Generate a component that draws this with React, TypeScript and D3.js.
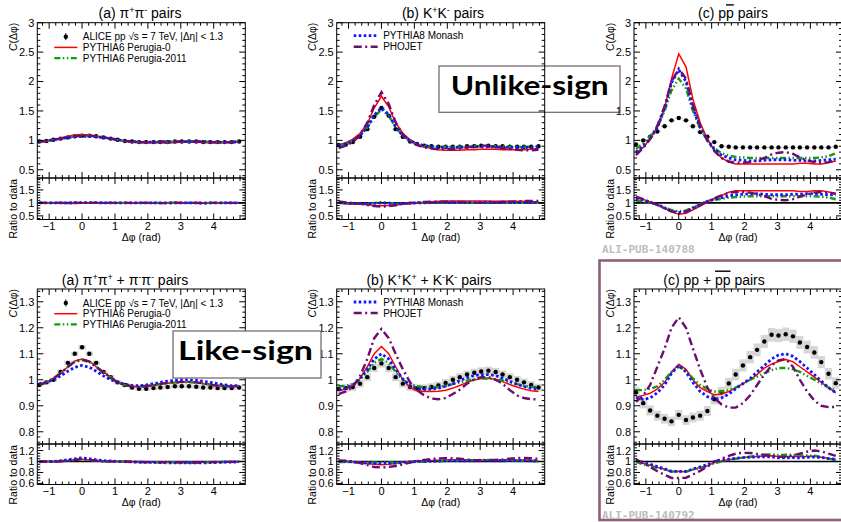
import React from "react";
import * as d3 from "d3";

// bin centres (rad)
const dphi = [-1.3, -1.08, -0.87, -0.65, -0.43, -0.22, 0, 0.22, 0.43, 0.65, 0.87, 1.08, 1.3, 1.52, 1.73, 1.95, 2.17, 2.38, 2.6, 2.82, 3.03, 3.25, 3.47, 3.68, 3.9, 4.12, 4.33, 4.55, 4.77];

// (a) pi+pi- unlike-sign
const pipiUS_data = [0.98, 0.99, 1.01, 1.03, 1.05, 1.07, 1.08, 1.08, 1.07, 1.05, 1.03, 1.01, 0.99, 0.98, 0.97, 0.97, 0.97, 0.97, 0.97, 0.98, 0.98, 0.98, 0.98, 0.97, 0.97, 0.97, 0.97, 0.97, 0.98];
const pipiUS_p0 = [0.98, 0.99, 1.01, 1.04, 1.07, 1.09, 1.1, 1.09, 1.07, 1.05, 1.03, 1.01, 0.99, 0.97, 0.96, 0.96, 0.96, 0.96, 0.96, 0.96, 0.97, 0.97, 0.97, 0.96, 0.96, 0.96, 0.96, 0.96, 0.97];
const pipiUS_p11 = [0.98, 0.99, 1.01, 1.03, 1.05, 1.07, 1.08, 1.08, 1.07, 1.05, 1.03, 1.01, 0.99, 0.98, 0.97, 0.97, 0.97, 0.97, 0.97, 0.98, 0.98, 0.98, 0.98, 0.98, 0.97, 0.97, 0.97, 0.97, 0.98];
const pipiUS_monash = [0.98, 0.99, 1.01, 1.03, 1.05, 1.06, 1.07, 1.07, 1.06, 1.05, 1.03, 1.01, 0.99, 0.98, 0.97, 0.97, 0.97, 0.97, 0.97, 0.98, 0.98, 0.98, 0.98, 0.98, 0.97, 0.97, 0.97, 0.97, 0.98];
const pipiUS_phojet = [0.98, 0.99, 1.01, 1.03, 1.05, 1.07, 1.08, 1.08, 1.07, 1.05, 1.03, 1.01, 0.99, 0.98, 0.97, 0.97, 0.97, 0.98, 0.98, 0.98, 0.98, 0.98, 0.98, 0.98, 0.97, 0.97, 0.97, 0.97, 0.98];

// (b) K+K- unlike-sign
const kkUS_data = [0.92, 0.93, 0.97, 1.06, 1.19, 1.4, 1.55, 1.42, 1.19, 1.06, 0.98, 0.94, 0.91, 0.9, 0.89, 0.89, 0.89, 0.89, 0.9, 0.9, 0.91, 0.91, 0.9, 0.9, 0.89, 0.89, 0.89, 0.89, 0.9];
const kkUS_p0 = [0.92, 0.96, 1.02, 1.12, 1.28, 1.55, 1.75, 1.57, 1.3, 1.12, 1.01, 0.94, 0.89, 0.86, 0.84, 0.83, 0.83, 0.83, 0.84, 0.84, 0.85, 0.85, 0.85, 0.84, 0.84, 0.84, 0.84, 0.85, 0.86];
const kkUS_p11 = [0.92, 0.94, 0.99, 1.08, 1.22, 1.4, 1.52, 1.42, 1.22, 1.08, 0.99, 0.94, 0.91, 0.9, 0.89, 0.89, 0.89, 0.89, 0.89, 0.9, 0.9, 0.9, 0.9, 0.9, 0.89, 0.89, 0.89, 0.89, 0.9];
const kkUS_monash = [0.91, 0.94, 0.99, 1.08, 1.22, 1.43, 1.55, 1.44, 1.23, 1.08, 0.99, 0.94, 0.91, 0.89, 0.88, 0.88, 0.88, 0.88, 0.88, 0.89, 0.89, 0.89, 0.89, 0.88, 0.88, 0.88, 0.88, 0.88, 0.89];
const kkUS_phojet = [0.87, 0.91, 0.97, 1.09, 1.3, 1.6, 1.82, 1.62, 1.31, 1.1, 0.98, 0.92, 0.88, 0.86, 0.85, 0.85, 0.85, 0.86, 0.88, 0.9, 0.91, 0.91, 0.89, 0.87, 0.85, 0.84, 0.83, 0.83, 0.84];

// (c) p pbar unlike-sign
const ppUS_data = [0.93, 1.0, 1.06, 1.15, 1.24, 1.34, 1.38, 1.34, 1.24, 1.14, 1.06, 0.97, 0.9, 0.89, 0.88, 0.88, 0.88, 0.88, 0.88, 0.88, 0.88, 0.88, 0.88, 0.88, 0.88, 0.88, 0.88, 0.88, 0.89];
const ppUS_p0 = [0.78, 0.88, 1.02, 1.22, 1.55, 2.05, 2.47, 2.25, 1.7, 1.3, 1.02, 0.83, 0.7, 0.63, 0.6, 0.6, 0.6, 0.6, 0.6, 0.6, 0.6, 0.6, 0.6, 0.61, 0.61, 0.6, 0.6, 0.62, 0.65];
const ppUS_p11 = [0.85, 0.95, 1.07, 1.22, 1.5, 1.85, 2.05, 1.88, 1.5, 1.2, 1.0, 0.87, 0.78, 0.74, 0.72, 0.71, 0.7, 0.7, 0.7, 0.7, 0.7, 0.7, 0.7, 0.7, 0.7, 0.7, 0.71, 0.73, 0.78];
const ppUS_monash = [0.8, 0.9, 1.03, 1.22, 1.55, 1.98, 2.2, 2.0, 1.55, 1.22, 1.0, 0.85, 0.75, 0.7, 0.67, 0.66, 0.65, 0.65, 0.66, 0.67, 0.67, 0.67, 0.66, 0.66, 0.65, 0.65, 0.66, 0.67, 0.68];
const ppUS_phojet = [0.75, 0.87, 1.02, 1.25, 1.58, 2.0, 2.22, 2.05, 1.6, 1.25, 1.0, 0.82, 0.7, 0.64, 0.62, 0.62, 0.63, 0.66, 0.7, 0.76, 0.79, 0.8, 0.77, 0.71, 0.66, 0.63, 0.62, 0.63, 0.66];

// (a) pi+pi+ + pi-pi- like-sign
const pipiLS_data = [0.98, 0.99, 1.0, 1.03, 1.065, 1.1, 1.125, 1.1, 1.065, 1.03, 1.01, 0.99, 0.98, 0.97, 0.965, 0.965, 0.968, 0.97, 0.972, 0.975, 0.975, 0.975, 0.973, 0.97, 0.97, 0.968, 0.968, 0.968, 0.97];
const pipiLS_p0 = [0.98, 0.99, 1.005, 1.025, 1.05, 1.072, 1.08, 1.072, 1.05, 1.03, 1.01, 0.99, 0.98, 0.975, 0.972, 0.974, 0.978, 0.983, 0.987, 0.99, 0.991, 0.991, 0.989, 0.985, 0.98, 0.977, 0.975, 0.974, 0.975];
const pipiLS_p11 = [0.98, 0.99, 1.005, 1.025, 1.05, 1.068, 1.076, 1.068, 1.05, 1.028, 1.01, 0.99, 0.98, 0.977, 0.975, 0.977, 0.98, 0.984, 0.987, 0.989, 0.99, 0.99, 0.989, 0.986, 0.982, 0.979, 0.977, 0.976, 0.977];
const pipiLS_monash = [0.985, 0.99, 1.0, 1.015, 1.033, 1.048, 1.055, 1.048, 1.033, 1.015, 1.0, 0.99, 0.983, 0.978, 0.977, 0.98, 0.985, 0.99, 0.995, 0.998, 1.0, 1.0, 0.998, 0.994, 0.99, 0.985, 0.98, 0.977, 0.977];
const pipiLS_phojet = [0.98, 0.99, 1.005, 1.025, 1.05, 1.07, 1.078, 1.07, 1.05, 1.028, 1.008, 0.99, 0.98, 0.975, 0.973, 0.975, 0.979, 0.984, 0.988, 0.99, 0.992, 0.992, 0.99, 0.986, 0.981, 0.977, 0.975, 0.974, 0.975];

// (b) K+K+ + K-K- like-sign
const kkLS_data = [0.965, 0.968, 0.972, 0.985, 1.01, 1.045, 1.063, 1.045, 1.01, 0.985, 0.972, 0.968, 0.968, 0.972, 0.978, 0.988, 1.0, 1.01, 1.02, 1.027, 1.032, 1.035, 1.03, 1.02, 1.01, 1.0, 0.99, 0.98, 0.97];
const kkLS_p0 = [0.958, 0.965, 0.978, 1.005, 1.05, 1.1, 1.128, 1.1, 1.05, 1.0, 0.97, 0.958, 0.955, 0.955, 0.956, 0.96, 0.968, 0.978, 0.99, 0.999, 1.005, 1.006, 1.002, 0.993, 0.982, 0.972, 0.964, 0.958, 0.955];
const kkLS_p11 = [0.975, 0.977, 0.983, 1.0, 1.03, 1.065, 1.08, 1.065, 1.03, 1.0, 0.983, 0.975, 0.972, 0.971, 0.972, 0.976, 0.983, 0.99, 0.997, 1.002, 1.005, 1.005, 1.002, 0.997, 0.99, 0.983, 0.977, 0.973, 0.972];
const kkLS_monash = [0.962, 0.968, 0.98, 1.005, 1.04, 1.08, 1.1, 1.08, 1.04, 1.003, 0.978, 0.966, 0.963, 0.964, 0.968, 0.975, 0.985, 0.997, 1.008, 1.016, 1.02, 1.02, 1.016, 1.006, 0.994, 0.983, 0.974, 0.967, 0.963];
const kkLS_phojet = [0.945, 0.955, 0.972, 1.015, 1.08, 1.16, 1.195, 1.16, 1.1, 1.04, 0.99, 0.96, 0.94, 0.928, 0.925, 0.93, 0.945, 0.962, 0.985, 1.002, 1.01, 1.01, 1.0, 0.985, 0.96, 0.94, 0.93, 0.925, 0.925];

// (c) pp + pbar pbar like-sign
const ppLS_data = [0.952, 0.91, 0.882, 0.862, 0.85, 0.84, 0.865, 0.845, 0.855, 0.862, 0.88, 0.925, 0.952, 0.986, 1.02, 1.055, 1.087, 1.115, 1.147, 1.173, 1.17, 1.175, 1.167, 1.143, 1.126, 1.105, 1.068, 1.023, 0.987];
const ppLS_p0 = [0.933, 0.94, 0.948, 0.965, 0.99, 1.03, 1.06, 1.04, 1.0, 0.97, 0.955, 0.942, 0.945, 0.955, 0.97, 0.985, 1.0, 1.02, 1.045, 1.06, 1.07, 1.078, 1.07, 1.05, 1.03, 1.01, 0.99, 0.97, 0.95];
const ppLS_p11 = [0.96, 0.96, 0.965, 0.975, 1.0, 1.03, 1.05, 1.035, 1.005, 0.98, 0.965, 0.955, 0.955, 0.96, 0.97, 0.985, 1.0, 1.012, 1.025, 1.037, 1.045, 1.045, 1.04, 1.03, 1.015, 1.0, 0.985, 0.97, 0.96];
const ppLS_monash = [0.93, 0.925, 0.93, 0.95, 0.98, 1.025, 1.055, 1.03, 0.99, 0.955, 0.935, 0.925, 0.93, 0.945, 0.965, 0.985, 1.005, 1.03, 1.055, 1.08, 1.095, 1.1, 1.09, 1.07, 1.045, 1.02, 0.995, 0.97, 0.95];
const ppLS_phojet = [0.915, 0.94, 0.98, 1.05, 1.12, 1.2, 1.24, 1.2, 1.12, 1.04, 0.97, 0.93, 0.905, 0.893, 0.893, 0.91, 0.94, 0.98, 1.02, 1.055, 1.075, 1.08, 1.05, 1.0, 0.955, 0.92, 0.9, 0.895, 0.895];

const FONT = "'Liberation Sans', Arial, Helvetica, sans-serif";

const MODELS = [
  { name: "PYTHIA6 Perugia-0", color: "#ff0000", width: 1.5, dash: undefined as string | undefined },
  { name: "PYTHIA6 Perugia-2011", color: "#139a13", width: 2.4, dash: "6,2.5,1.5,2.5,1.5,2.5" },
  { name: "PYTHIA8 Monash", color: "#1414ff", width: 2.8, dash: "2.6,2.4" },
  { name: "PHOJET", color: "#6a0d6e", width: 2.4, dash: "8,3.5,2,3.5" },
];

const ROWS = [
  { top: 22.7, mid: 178, bottom: 219.5, yMain: [0.36, 3], mainMajor: 0.5, mainMinor: 0.1, yRatio: [0.36, 1.96], ratioMajor: 0.5, ratioMinor: 0.1 },
  { top: 289, mid: 444, bottom: 484.5, yMain: [0.753, 1.349], mainMajor: 0.1, mainMinor: 0.02, yRatio: [0.58, 1.32], ratioMajor: 0.2, ratioMinor: 0.05 },
];
const COLS = [37.3, 336.7, 634];
const PW = 208;
const XDOM = [-1.36, 4.96];

type Seg = { t: string; sup?: boolean; over?: boolean };

const PANELS = [
  { row: 0, col: 0, titleX: 140, title: [{ t: "(a) π" }, { t: "+", sup: true }, { t: "π" }, { t: "-", sup: true }, { t: " pairs" }] as Seg[], data: pipiUS_data, mc: [pipiUS_p0, pipiUS_p11, pipiUS_monash, pipiUS_phojet], syst: 0.01, legend: "a" },
  { row: 0, col: 1, titleX: 443, title: [{ t: "(b) K" }, { t: "+", sup: true }, { t: "K" }, { t: "-", sup: true }, { t: " pairs" }] as Seg[], data: kkUS_data, mc: [kkUS_p0, kkUS_p11, kkUS_monash, kkUS_phojet], syst: 0.01, legend: "b" },
  { row: 0, col: 2, titleX: 733, title: [{ t: "(c) p" }, { t: "p", over: true }, { t: " pairs" }] as Seg[], data: ppUS_data, mc: [ppUS_p0, ppUS_p11, ppUS_monash, ppUS_phojet], syst: 0.012, legend: "" },
  { row: 1, col: 0, titleX: 125, title: [{ t: "(a) π" }, { t: "+", sup: true }, { t: "π" }, { t: "+", sup: true }, { t: " + π" }, { t: "-", sup: true }, { t: "π" }, { t: "-", sup: true }, { t: " pairs" }] as Seg[], data: pipiLS_data, mc: [pipiLS_p0, pipiLS_p11, pipiLS_monash, pipiLS_phojet], syst: 0.008, legend: "a" },
  { row: 1, col: 1, titleX: 429, title: [{ t: "(b) K" }, { t: "+", sup: true }, { t: "K" }, { t: "+", sup: true }, { t: " + K" }, { t: "-", sup: true }, { t: "K" }, { t: "-", sup: true }, { t: " pairs" }] as Seg[], data: kkLS_data, mc: [kkLS_p0, kkLS_p11, kkLS_monash, kkLS_phojet], syst: 0.015, legend: "b" },
  { row: 1, col: 2, titleX: 714, title: [{ t: "(c) pp + " }, { t: "pp", over: true }, { t: " pairs" }] as Seg[], data: ppLS_data, mc: [ppLS_p0, ppLS_p11, ppLS_monash, ppLS_phojet], syst: 0.022, legend: "" },
];

const steps = (lo: number, hi: number, step: number) => {
  const out: number[] = [];
  const start = Math.ceil(lo / step - 1e-6);
  for (let k = start; k * step <= hi + 1e-9; k++) out.push(+(k * step).toFixed(6));
  return out;
};
const fmt = (v: number) => (v < 0 ? "−" + Math.abs(v) : String(+v.toFixed(2)));

function Title({ segs, x, y }: { segs: Seg[]; x: number; y: number }) {
  const parts: React.ReactNode[] = [];
  let raised = false;
  segs.forEach((s, i) => {
    let dy = 0;
    if (s.sup && !raised) { dy = -5; raised = true; }
    else if (!s.sup && raised) { dy = 5; raised = false; }
    parts.push(
      <tspan key={i} dy={dy || undefined} fontSize={s.sup ? 9 : undefined}
        style={s.over ? { textDecoration: "overline" } : undefined}>{s.t}</tspan>
    );
  });
  return <text x={x} y={y} textAnchor="middle" fontSize={14}>{parts}</text>;
}

function Panel({ p, idx }: { p: (typeof PANELS)[number]; idx: number }) {
  const r = ROWS[p.row];
  const left = COLS[p.col];
  const right = left + PW;
  const x = d3.scaleLinear().domain(XDOM).range([left, right]);
  const ym = d3.scaleLinear().domain(r.yMain).range([r.mid, r.top]);
  const yr = d3.scaleLinear().domain(r.yRatio).range([r.bottom, r.mid]);
  const ratios = p.mc.map((m) => m.map((v, i) => p.data[i] / v));
  const binW = x(dphi[1]) - x(dphi[0]);

  const lineMain = d3.line<number>().x((_, i) => x(dphi[i])).y((v) => ym(v));
  const lineRatio = d3.line<number>().x((_, i) => x(dphi[i])).y((v) => yr(v));

  const xMaj = steps(XDOM[0], XDOM[1], 1);
  const xMin = steps(XDOM[0], XDOM[1], 0.2);
  const ticks: React.ReactNode[] = [];
  const hEdges = [
    { y: r.top, d: 1 }, { y: r.mid, d: -1 }, { y: r.mid, d: 1 }, { y: r.bottom, d: -1 },
  ];
  hEdges.forEach((e, ei) => {
    xMin.forEach((v) => {
      const maj = xMaj.includes(v);
      const L = maj ? 6 : 3;
      ticks.push(<line key={`x${ei}-${v}`} x1={x(v)} x2={x(v)} y1={e.y} y2={e.y + e.d * L} />);
    });
  });
  const vTicks = (scale: d3.ScaleLinear<number, number>, dom: number[], maj: number, min: number, tag: string) => {
    const majs = steps(dom[0], dom[1], maj);
    steps(dom[0], dom[1], min).forEach((v) => {
      const isMaj = majs.some((m) => Math.abs(m - v) < 1e-6);
      const L = isMaj ? 6 : 3;
      ticks.push(<line key={`${tag}l${v}`} x1={left} x2={left + L} y1={scale(v)} y2={scale(v)} />);
      ticks.push(<line key={`${tag}r${v}`} x1={right} x2={right - L} y1={scale(v)} y2={scale(v)} />);
    });
    return majs;
  };
  const mainLabels = vTicks(ym, r.yMain, r.mainMajor, r.mainMinor, "m");
  const ratioLabels = vTicks(yr, r.yRatio, r.ratioMajor, r.ratioMinor, "r");

  const clipM = `clipm${idx}`;
  const clipR = `clipr${idx}`;

  return (
    <g>
      <defs>
        <clipPath id={clipM}><rect x={left} y={r.top} width={PW} height={r.mid - r.top} /></clipPath>
        <clipPath id={clipR}><rect x={left} y={r.mid} width={PW} height={r.bottom - r.mid} /></clipPath>
      </defs>
      <Title segs={p.title} x={p.titleX} y={r.top - 4.5} />

      {/* main pad */}
      <g clipPath={`url(#${clipM})`}>
        {p.data.map((v, i) => (
          <rect key={`s${i}`} x={x(dphi[i]) - binW / 2} width={binW}
            y={ym(v * (1 + p.syst))} height={ym(v * (1 - p.syst)) - ym(v * (1 + p.syst))}
            fill="#cfcfcf" opacity={0.85} />
        ))}
        {p.data.map((v, i) => (
          <circle key={`d${i}`} cx={x(dphi[i])} cy={ym(v)} r={2.2} fill="#000" />
        ))}
        {p.mc.map((m, k) => (
          <path key={`c${k}`} d={lineMain(m) || ""} fill="none" stroke={MODELS[k].color}
            strokeWidth={MODELS[k].width} strokeDasharray={MODELS[k].dash} />
        ))}
      </g>

      {/* ratio pad */}
      <g clipPath={`url(#${clipR})`}>
        <line x1={left} x2={right} y1={yr(1)} y2={yr(1)} stroke="#000" strokeWidth={1.6} />
        {ratios.map((m, k) => (
          <path key={`rc${k}`} d={lineRatio(m) || ""} fill="none" stroke={MODELS[k].color}
            strokeWidth={MODELS[k].width} strokeDasharray={MODELS[k].dash} />
        ))}
      </g>

      {/* frames and ticks */}
      <g stroke="#000" strokeWidth={1}>
        <rect x={left} y={r.top} width={PW} height={r.mid - r.top} fill="none" />
        <rect x={left} y={r.mid} width={PW} height={r.bottom - r.mid} fill="none" />
        {ticks}
      </g>

      <g fontSize={11} textAnchor="end">
        {mainLabels.map((v) => (
          <text key={`ml${v}`} x={left - 3} y={ym(v)} dy="0.36em">{fmt(v)}</text>
        ))}
        {ratioLabels.map((v) => (
          <text key={`rl${v}`} x={left - 3} y={yr(v)} dy="0.36em">{fmt(v)}</text>
        ))}
      </g>
      <g fontSize={11} textAnchor="middle">
        {xMaj.map((v) => (
          <text key={`xl${v}`} x={x(v)} y={r.bottom + 10}>{fmt(v)}</text>
        ))}
      </g>
      <text x={(left + right) / 2} y={r.bottom + 21} fontSize={10.5} textAnchor="middle">Δφ (rad)</text>
      <text transform={`translate(${left - 24},${r.top}) rotate(-90)`} fontSize={10.5} textAnchor="end" dy="0.35em">
        <tspan fontStyle="italic">C</tspan>(Δφ)
      </text>
      <text transform={`translate(${left - 24},${r.mid + 1}) rotate(-90)`} fontSize={10.5} textAnchor="end" dy="0.35em">
        Ratio to data
      </text>

      {p.legend === "a" && (
        <g fontSize={10}>
          <line x1={left + 28.5} x2={left + 28.5} y1={r.top + 10.5} y2={r.top + 17.5} stroke="#000" strokeWidth={1} />
          <circle cx={left + 28.5} cy={r.top + 14} r={2.2} fill="#000" />
          <text x={left + 45.5} y={r.top + 14} dy="0.35em">ALICE pp √s = 7 TeV, |Δη| &lt; 1.3</text>
          {[0, 1].map((k) => (
            <g key={k}>
              <line x1={left + 17} x2={left + 40} y1={r.top + 24.7 + k * 10.7} y2={r.top + 24.7 + k * 10.7}
                stroke={MODELS[k].color} strokeWidth={MODELS[k].width} strokeDasharray={MODELS[k].dash} />
              <text x={left + 45.5} y={r.top + 24.7 + k * 10.7} dy="0.35em">{MODELS[k].name}</text>
            </g>
          ))}
        </g>
      )}
      {p.legend === "b" && (
        <g fontSize={10}>
          {[2, 3].map((k, j) => (
            <g key={k}>
              <line x1={left + 17} x2={left + 41} y1={r.top + 13 + j * 11} y2={r.top + 13 + j * 11}
                stroke={MODELS[k].color} strokeWidth={MODELS[k].width} strokeDasharray={MODELS[k].dash} />
              <text x={left + 46.5} y={r.top + 13 + j * 11} dy="0.35em">{MODELS[k].name}</text>
            </g>
          ))}
        </g>
      )}
    </g>
  );
}

export default function App() {
  return (
    <svg width={841} height={522} viewBox="0 0 841 522"
      style={{ position: "absolute", left: 0, top: 0, background: "#fff" }}
      fontFamily={FONT}>
      <rect x={0} y={0} width={841} height={522} fill="#fff" />
      {/* bottom-right highlight frame */}
      <rect x={599.5} y={260.5} width={260} height={259.5} fill="none" stroke="#8e6079" strokeWidth={2.6} />
      <text x={602} y={253} fontFamily="'DejaVu Sans Mono', monospace" fontWeight="bold" fontSize={11} fill="#bdbdbd">ALI-PUB-140788</text>
      <text x={602} y={519} fontFamily="'DejaVu Sans Mono', monospace" fontWeight="bold" fontSize={11} fill="#bdbdbd">ALI-PUB-140792</text>

      {/* Unlike-sign label sits under panel frames */}
      <rect x={439} y={66} width={181} height={46.3} fill="#fff" stroke="#7c6a76" strokeWidth={1.3} />
      <text x={450.7} y={94.5} fontFamily="Lato, 'Open Sans', sans-serif" fontWeight={700} fontSize={27}
        textLength={158} lengthAdjust="spacingAndGlyphs">Unlike-sign</text>

      {PANELS.map((p, i) => <Panel key={i} p={p} idx={i} />)}

      <rect x={173} y={331} width={148} height={47} fill="#fff" stroke="#7c6a76" strokeWidth={1.3} />
      <text x={178} y={360} fontFamily="Lato, 'Open Sans', sans-serif" fontWeight={700} fontSize={27}
        textLength={135} lengthAdjust="spacingAndGlyphs">Like-sign</text>
    </svg>
  );
}
